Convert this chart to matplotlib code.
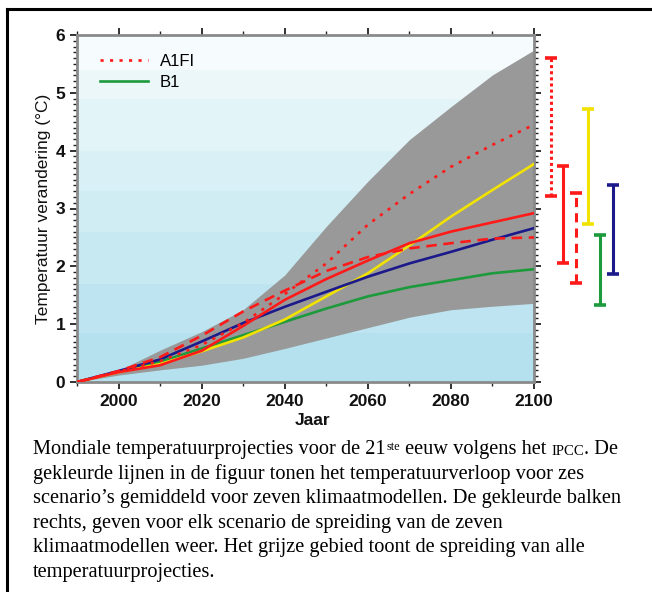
import matplotlib
matplotlib.use("Agg")
import matplotlib.pyplot as plt
import numpy as np
from matplotlib.ticker import MultipleLocator
from matplotlib.lines import Line2D

# ---------------- data ----------------
years = [1990, 2000, 2010, 2020, 2030, 2040, 2050, 2060, 2070, 2080, 2090, 2100]
env_upper = [0, 0.20, 0.55, 0.87, 1.25, 1.85, 2.69, 3.47, 4.19, 4.76, 5.31, 5.74]
env_lower = [0, 0.12, 0.21, 0.29, 0.41, 0.58, 0.76, 0.94, 1.12, 1.25, 1.31, 1.36]

a1fi = [0, 0.18, 0.36, 0.64, 1.02, 1.52, 2.05, 2.72, 3.25, 3.72, 4.10, 4.45]
a2 = [0, 0.17, 0.29, 0.54, 0.97, 1.42, 1.78, 2.10, 2.40, 2.60, 2.76, 2.92]
a1b = [0, 0.19, 0.43, 0.80, 1.22, 1.58, 1.92, 2.16, 2.31, 2.40, 2.48, 2.50]
a1t = [0, 0.17, 0.31, 0.53, 0.77, 1.08, 1.48, 1.88, 2.36, 2.86, 3.32, 3.77]
b2 = [0, 0.19, 0.39, 0.70, 1.02, 1.30, 1.56, 1.82, 2.05, 2.25, 2.46, 2.66]
b1 = [0, 0.18, 0.35, 0.58, 0.81, 1.04, 1.27, 1.48, 1.64, 1.76, 1.88, 1.95]

bar_names = ["A1FI", "A2", "A1B", "A1T", "B1", "B2"]
bar_lo = [3.22, 2.05, 1.72, 2.73, 1.33, 1.87]
bar_hi = [5.60, 3.74, 3.26, 4.72, 2.55, 3.41]

legend_labels = ["A1FI", "B1"]
xticks = [2000, 2020, 2040, 2060, 2080, 2100]
yticks = [0, 1, 2, 3, 4, 5, 6]

caption_lines = [
    "gekleurde lijnen in de figuur tonen het temperatuurverloop voor zes",
    "scenario\u2019s gemiddeld voor zeven klimaatmodellen. De gekleurde balken",
    "rechts, geven voor elk scenario de spreiding van de zeven",
    "klimaatmodellen weer. Het grijze gebied toont de spreiding van alle",
    "temperatuurprojecties.",
]

# ---------------- styles ----------------
RED = "#ff1a1a"
YEL = "#f2e200"
NAVY = "#1c1a8a"
GREEN = "#1d9a3c"
GREY = "#999999"
SANS = "Liberation Sans"
SERIF = "Liberation Serif"

W, H = 652, 592
fig = plt.figure(figsize=(W / 100, H / 100), dpi=100)
fig.patch.set_facecolor("white")

ax = fig.add_axes([77 / W, 1 - 382 / H, 457 / W, 347 / H])
ax.set_xlim(1990, 2100)
ax.set_ylim(0, 6)

# stepped blue gradient background
band_edges = [0, 0.85, 1.7, 2.6, 3.3, 4.0, 4.9, 5.4, 6.0]
band_cols = ["#b5e1ee", "#bde4f0", "#c7e9f2", "#d0edf4", "#d9f0f6",
             "#e3f4f8", "#ecf7fa", "#f6fbfd"]
for i, c in enumerate(band_cols):
    ax.axhspan(band_edges[i], band_edges[i + 1], color=c, lw=0, zorder=0)

ax.fill_between(years, env_lower, env_upper, color=GREY, lw=0, zorder=1)

lw = 1.9
ax.plot(years, b1, color=GREEN, lw=lw, zorder=3)
ax.plot(years, a1t, color=YEL, lw=lw, zorder=3)
ax.plot(years, b2, color=NAVY, lw=lw, zorder=4)
ax.plot(years, a2, color=RED, lw=lw, zorder=4)
ax.plot(years, a1b, color=RED, lw=lw, ls=(0, (4, 2.5)), zorder=4)
ax.plot(years, a1fi, color=RED, lw=lw, ls=(0, (1.2, 2.4)), zorder=4)

# spread bars on the right
bar_x = [2104, 2107, 2110, 2113, 2116, 2119]
bar_style = [(RED, (0, (1.0, 1.0))), (RED, "-"), (RED, (0, (3, 2))),
             (YEL, "-"), (GREEN, "-"), (NAVY, "-")]
for x, lo, hi, (c, ls) in zip(bar_x, bar_lo, bar_hi, bar_style):
    ax.plot([x, x], [lo, hi], color=c, lw=2.2, ls=ls, clip_on=False, zorder=5,
            solid_capstyle="butt")
    ax.plot([x, x], [lo, hi], color=c, lw=0, marker="_", ms=9, mew=2.6,
            clip_on=False, zorder=5)

# legend
handles = [Line2D([], [], color=RED, lw=lw, ls=(0, (1.2, 2.4))),
           Line2D([], [], color=GREEN, lw=lw)]
leg = ax.legend(handles, legend_labels, loc="upper left",
                bbox_to_anchor=(0.035, 0.965), frameon=False,
                prop={"family": SANS, "size": 12}, handlelength=2.9,
                handletextpad=0.7, labelspacing=0.35, borderaxespad=0)

# axes styling
for s in ax.spines.values():
    s.set_color("#8a8a8a")
    s.set_linewidth(2)
ax.set_xticks(xticks)
ax.xaxis.set_minor_locator(MultipleLocator(10))
ax.set_yticks(yticks)
ax.yaxis.set_minor_locator(MultipleLocator(0.1))
ax.tick_params(which="both", direction="out", top=True, right=True,
               color="#222222")
ax.tick_params(which="major", length=5, width=1.3, pad=3.5)
ax.tick_params(which="minor", length=3, width=1.0)
ax.set_xticklabels([str(v) for v in xticks], family=SANS, fontweight="bold",
                   fontsize=12.5, color="#111111")
ax.set_yticklabels([str(v) for v in yticks], family=SANS, fontweight="bold",
                   fontsize=12.5, color="#111111")

ax.set_ylabel("Temperatuur verandering (\u00b0C)", family=SANS, fontsize=12.5,
              va="center", color="#111111")
ax.yaxis.set_label_coords(-0.074, 0.5)
ax.set_xlabel("Jaar", family=SANS, fontsize=12.5, fontweight="bold",
              va="center", color="#111111")
ax.xaxis.set_label_coords(0.516, -0.112)

# outer frame lines (left and top)
fig.add_artist(Line2D([7 / W, 7 / W], [0, 1 - 9 / H], color="black", lw=2.2,
                      transform=fig.transFigure))
fig.add_artist(Line2D([7 / W, 1], [1 - 9 / H, 1 - 9 / H], color="black", lw=2.2,
                      transform=fig.transFigure))

# caption
fs = 14.7
x0 = 33 / W
base0 = 454
t1 = fig.text(x0, 1 - base0 / H, "Mondiale temperatuurprojecties voor de 21",
              family=SERIF, fontsize=fs, va="baseline", ha="left")
t2 = ax.annotate("ste", xy=(1, 1), xycoords=t1, va="top", ha="left",
                 family=SERIF, fontsize=fs * 0.6, annotation_clip=False,
                 xytext=(0.5, -1.0), textcoords="offset points")
t3 = ax.annotate(" eeuw volgens het ", xy=(1, 0), xycoords=(t2, t1),
                 va="bottom", ha="left", family=SERIF, fontsize=fs,
                 annotation_clip=False)
t4 = ax.annotate("IPCC", xy=(1, 0), xycoords=(t3, t1), va="baseline",
                 ha="left", family=SERIF, fontsize=fs * 0.72,
                 xytext=(0, 0.217 * fs), textcoords="offset points",
                 annotation_clip=False)
t5 = ax.annotate(". De", xy=(1, 0), xycoords=(t4, t1), va="bottom",
                 ha="left", family=SERIF, fontsize=fs, annotation_clip=False)
for i, line in enumerate(caption_lines):
    fig.text(x0, 1 - (base0 + 24.6 * (i + 1)) / H, line, family=SERIF,
             fontsize=fs, va="baseline", ha="left")

fig.savefig("out.png", dpi=100)
